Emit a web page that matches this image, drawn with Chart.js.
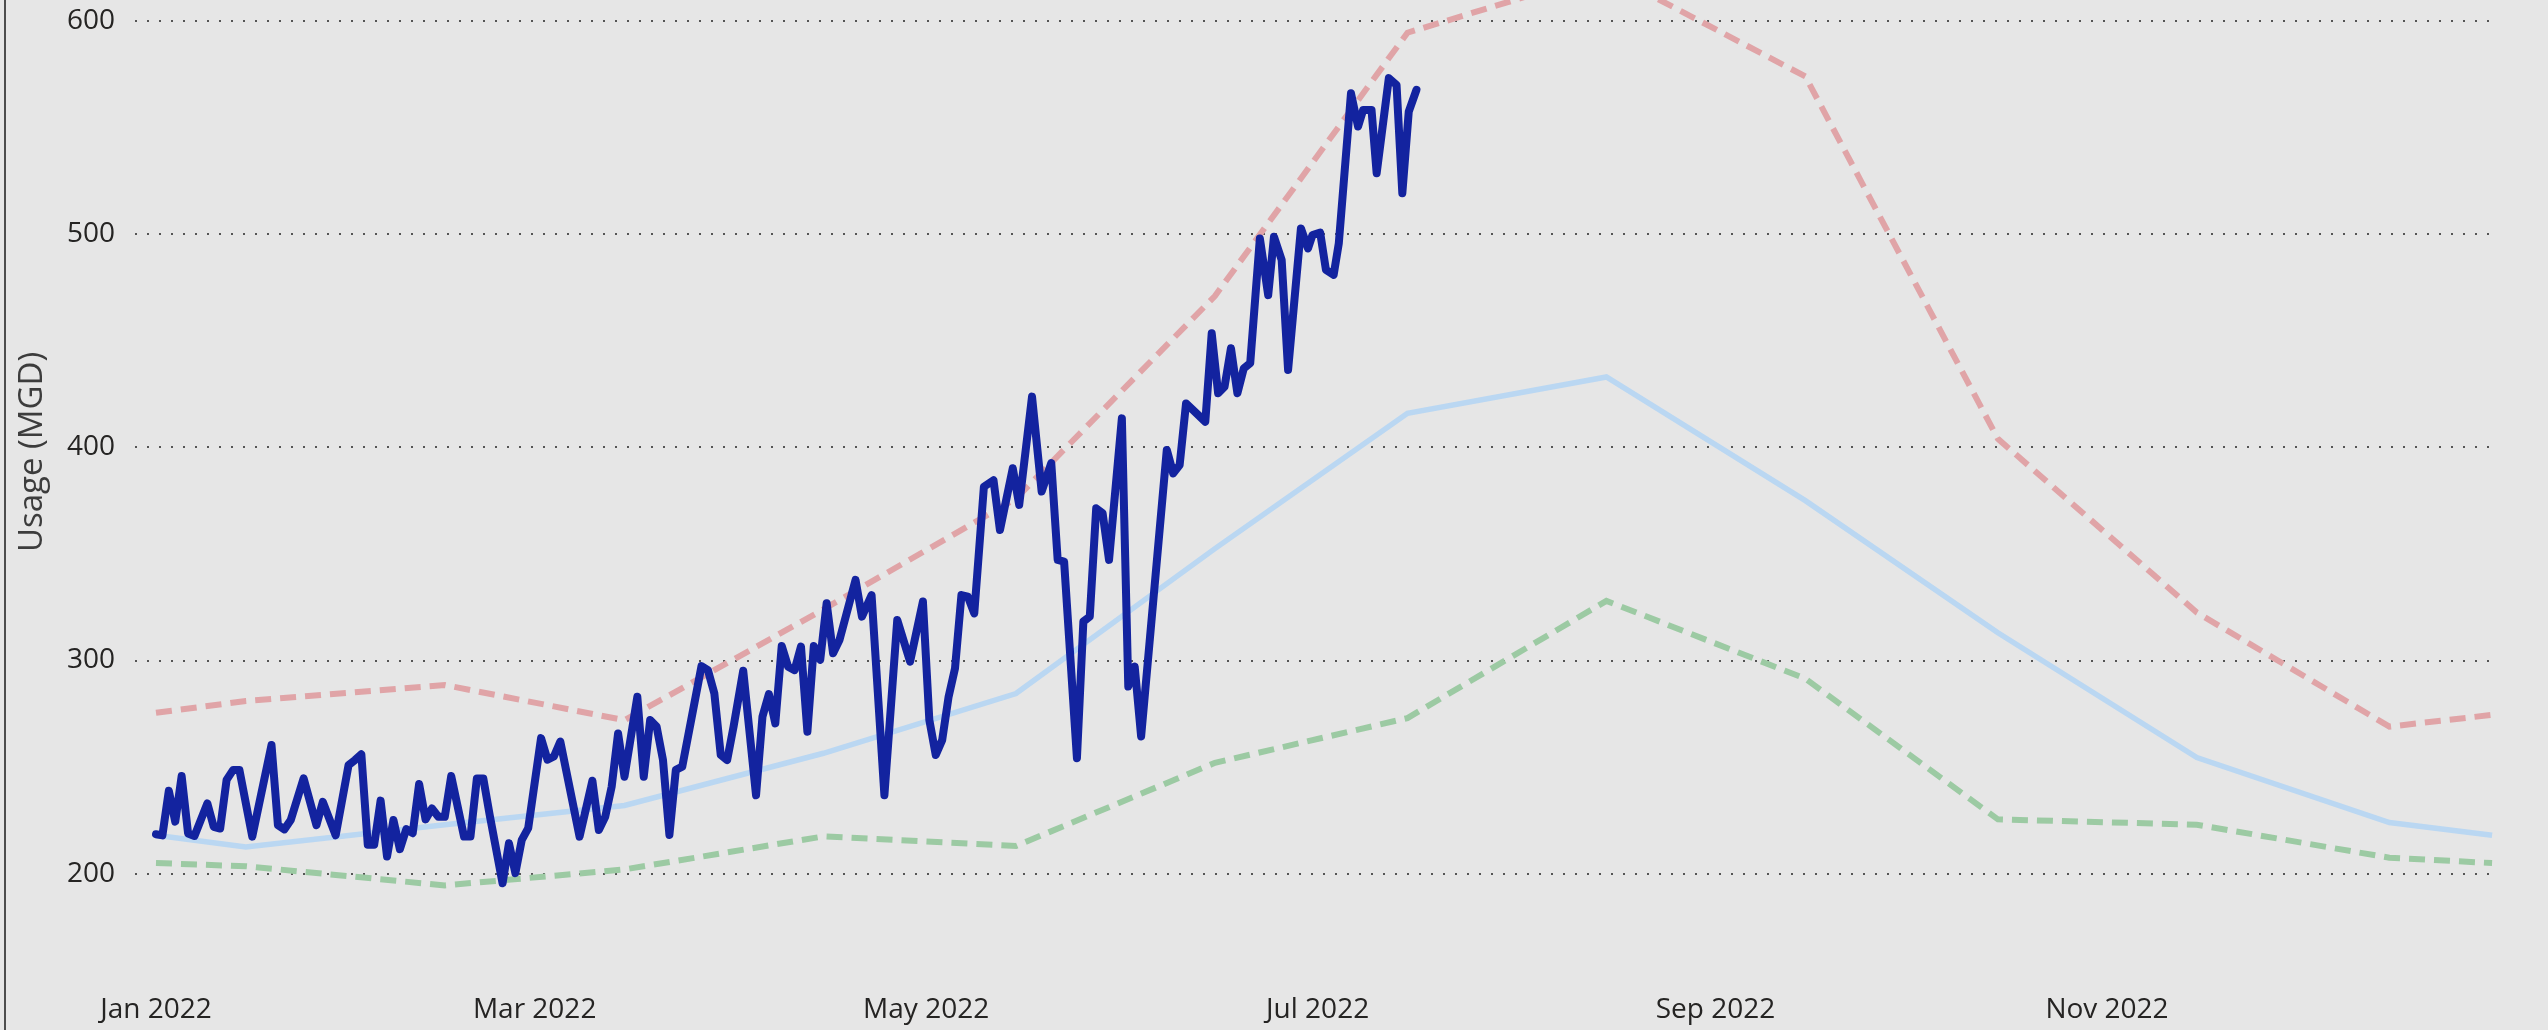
<!DOCTYPE html>
<html>
<head>
<meta charset="utf-8">
<script src="https://cdn.jsdelivr.net/npm/chart.js@4.4.0/dist/chart.umd.min.js"></script>
<style>
html,body{margin:0;padding:0;background:#e6e6e6;overflow:hidden}
#wrap{position:relative;width:2548px;height:1030px;background:#e6e6e6}
#edge{position:absolute;left:4px;top:0;width:2px;height:1030px;background:#4d4d4d}
canvas{position:absolute;left:0;top:0}
</style>
</head>
<body>
<div id="wrap"><canvas id="c" width="2548" height="1030"></canvas><div id="edge"></div></div>
<script>
// x values are days since 1 Jan 2022
const monthTickDays = [0, 59, 120, 181, 243, 304];
const monthTickLabels = ['Jan 2022', 'Mar 2022', 'May 2022', 'Jul 2022', 'Sep 2022', 'Nov 2022'];
const yTickValues = [200, 300, 400, 500, 600];
const yAxisTitle = 'Usage (MGD)';

const monthlyDays = [0, 14, 45, 73, 104, 134, 165, 195, 226, 257, 287, 318, 348, 364];
const averageUsage = [218, 212.5, 223, 232, 256.5, 284.5, 352.5, 416, 433, 375, 313, 254.5, 224, 218];
const maxUsage = [275.5, 281, 288.5, 272, 324, 376, 471, 594.5, 623, 574, 404, 322.5, 269, 274.5];
const minUsage = [205, 203.5, 194.5, 202, 217.5, 213, 252, 273, 328, 291.5, 225.5, 223, 207.5, 205];

const dailyDays = [0,1,2,3,4,5,6,8,9,10,11,12,13,15,18,19,20,21,23,25,26,28,30,31,32,33,34,35,36,37,38,39,40,41,42,43,44,45,46,48,49,50,51,52,54,55,56,57,58,60,61,62,63,
66,68,69,70,71,72,73,75,76,77,78,79,80,81,82,85,86,87,88,89,90,91.5,93.5,94.5,95.5,96.5,97.5,98.5,99.5,100.5,101.5,102.5,103.5,104.5,105.5,106.5,109,110,111.5,113.5,115.5,117.5,119.5,120.5,121.5,122.5,123.5,124.5,125.5,126.5,127.5,
129,130.5,131.5,133.5,134.5,136.5,138,139.5,140.5,141.5,143.5,144.5,145.5,146.5,147.5,148.5,150.5,151.5,152.5,153.5,157.5,158.5,159.5,160.5,163.5,164.5,165.5,166.5,167.5,168.5,169.5,170.5,
172,173.3,174.2,175.4,176.4,178.4,179.5,180.2,181.4,182.3,183.5,184.3,186.2,187.3,188.1,189.4,190.2,192.1,193.3,194.2,195.2,196.4];
const dailyUsage = [218.5,218,238.9,224.4,245.8,218.9,217.7,233,222,221.2,244,248.6,248.6,217.4,260.4,222.8,220.8,225.2,244.7,222.8,233.7,218,250.9,253.3,256,213.6,213.6,234.3,208.1,225.2,211.5,220.9,219,242.1,225.5,230.6,226.7,226.7,245.8,217.4,217.4,244.7,244.7,227.5,195.5,214.3,200.3,215.9,221.4,263.6,253.5,255,262,
217.4,243.6,220.5,226.7,240.8,265.8,245.5,283,245.5,272.1,269,253.3,218.2,248.7,250.2,297.4,295.5,284.6,255.7,253.3,269,295.2,236.8,273.7,284.3,270.5,306.8,297.1,295.5,306.5,266.6,306.8,300.3,326.9,303.4,309.6,337.8,320.6,330.7,236.8,319,299.5,327.7,272.1,255.7,262.7,283,296.3,330.7,330,322.1,
381.5,384.6,361.2,390.2,373,423.8,379.3,392.6,347.2,346.4,254.2,318.3,320.6,371.4,369.1,347.2,413.6,287.8,297.2,264.4,398.8,387.8,391.7,420.6,412,453.5,425.4,428.5,446.5,425.4,437.1,439.5,
498,471.4,498.8,487.9,436.3,502.7,493.3,499.6,500.7,483.2,480.9,495.7,566.1,550.5,558.3,558.3,528.6,573.2,570,519.2,557.5,567.7];

const toPts = (xs, ys) => xs.map((x, i) => ({x: x, y: ys[i]}));

Chart.defaults.font.family = "'Open Sans', sans-serif";

// y-axis title drawn as rotated text, centred where the reference places it
const yTitlePlugin = {
  id: 'yTitle',
  afterDraw(chart) {
    const c = chart.ctx;
    c.save();
    c.translate(33, 452);
    c.rotate(-Math.PI / 2);
    c.font = "33px 'Open Sans', sans-serif";
    c.fillStyle = '#3c3c3c';
    c.textAlign = 'center';
    c.textBaseline = 'middle';
    c.fillText(yAxisTitle, 0, 0);
    c.restore();
  }
};

new Chart(document.getElementById('c'), {
  type: 'line',
  data: {
    datasets: [
      {label: 'Daily usage', data: toPts(dailyDays, dailyUsage), borderColor: '#13239f', borderWidth: 8,
       pointRadius: 0, tension: 0, borderJoinStyle: 'round', borderCapStyle: 'round', order: 0},
      {label: 'Average', data: toPts(monthlyDays, averageUsage), borderColor: '#bad7f2', borderWidth: 5.5,
       pointRadius: 0, tension: 0, order: 1},
      {label: 'Maximum', data: toPts(monthlyDays, maxUsage), borderColor: '#e0a4a7', borderWidth: 6,
       borderDash: [16, 9], pointRadius: 0, tension: 0, order: 2},
      {label: 'Minimum', data: toPts(monthlyDays, minUsage), borderColor: '#9ccaa3', borderWidth: 6,
       borderDash: [16, 9], pointRadius: 0, tension: 0, order: 3}
    ]
  },
  plugins: [yTitlePlugin],
  options: {
    responsive: false,
    animation: false,
    devicePixelRatio: 1,
    layout: {padding: {left: 0, right: 54, top: 0, bottom: 0}},
    plugins: {legend: {display: false}, tooltip: {enabled: false}},
    scales: {
      x: {
        type: 'linear',
        min: -3.27,
        max: 364.3,
        grid: {display: false, drawTicks: false},
        border: {display: false},
        ticks: {
          font: {size: 28},
          color: '#252423',
          padding: 12,
          autoSkip: false,
          maxRotation: 0,
          callback: (v) => {
            const i = monthTickDays.indexOf(v);
            return i >= 0 ? monthTickLabels[i] : '';
          }
        },
        afterBuildTicks: (s) => { s.ticks = monthTickDays.map(v => ({value: v})); },
        afterFit: (s) => { s.height = 49; s.paddingLeft = 0; s.paddingRight = 0; }
      },
      y: {
        min: 149.67,
        max: 609.85,
        grid: {color: '#555555', lineWidth: 2, drawTicks: false},
        border: {display: false, dash: [2, 10]},
        ticks: {font: {size: 28}, color: '#252423', padding: 20},
        title: {display: false},
        afterBuildTicks: (s) => { s.ticks = yTickValues.map(v => ({value: v})); },
        afterFit: (s) => { s.width = 135; s.paddingTop = 0; s.paddingBottom = 0; }
      }
    }
  }
});
</script>
</body>
</html>
